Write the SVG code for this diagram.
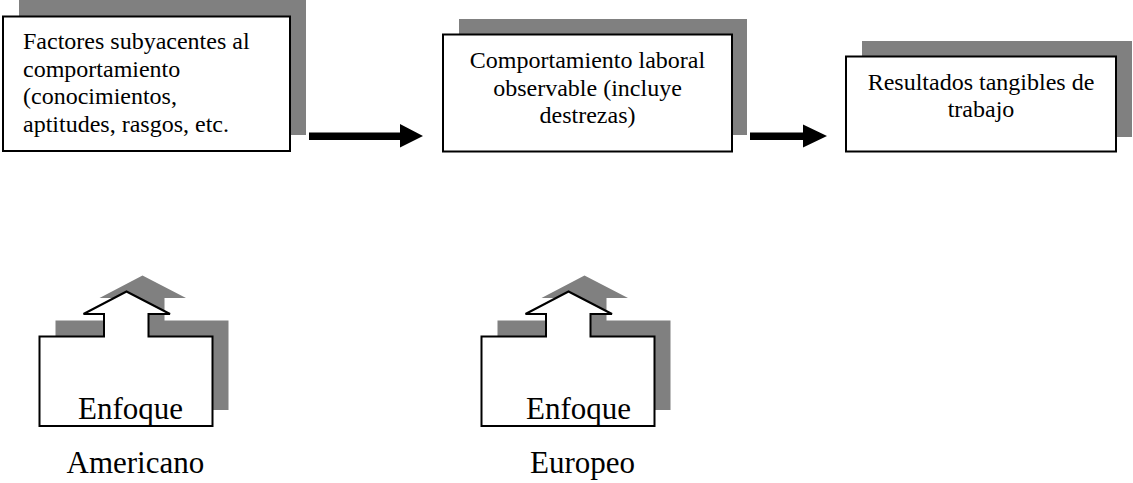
<svg xmlns="http://www.w3.org/2000/svg" width="1133" height="483" viewBox="0 0 1133 483">
<defs>
<style>
.shadow{fill:#808080;stroke:none}
.box{fill:#fff;stroke:#000;stroke-width:2}
.t{font-family:"Liberation Serif","Times New Roman",serif;font-size:24px;fill:#000}
.tc{font-family:"Liberation Serif","Times New Roman",serif;font-size:24px;fill:#000;text-anchor:middle}
.big{font-family:"Liberation Serif","Times New Roman",serif;font-size:31px;fill:#000}
.arrow{fill:#000;stroke:none}
</style>
<path id="house" d="M39.5,336.5 H104 V314 H83.5 L126.5,291.5 L170,314 H148.5 V336.5 H212.5 V426 H39.5 Z"/>
</defs>
<rect width="1133" height="483" fill="#fff"/>
<g id="node-factores">
<rect class="shadow" x="19" y="0" width="287" height="135"/>
<rect class="box" x="3" y="16.5" width="287" height="134.5"/>
<text class="t" x="23" y="49">Factores subyacentes al</text>
<text class="t" x="23" y="76.5">comportamiento</text>
<text class="t" x="23" y="104">(conocimientos,</text>
<text class="t" x="23" y="131.5">aptitudes, rasgos, etc.</text>
</g>
<g id="node-comportamiento">
<rect class="shadow" x="459" y="19" width="288" height="116"/>
<rect class="box" x="443" y="34.5" width="289" height="117"/>
<text class="tc" x="587.5" y="68">Comportamiento laboral</text>
<text class="tc" x="587.5" y="95.5">observable (incluye</text>
<text class="tc" x="587.5" y="123">destrezas)</text>
</g>
<g id="node-resultados">
<rect class="shadow" x="862" y="41" width="270" height="96"/>
<rect class="box" x="846" y="56.5" width="270" height="95"/>
<text class="tc" x="981" y="90">Resultados tangibles de</text>
<text class="tc" x="981" y="117">trabajo</text>
</g>
<g id="connectors">
<polygon class="arrow" points="309,132.5 400,132.5 400,124 423,136 400,147.5 400,140 309,140"/>
<polygon class="arrow" points="750,132.5 803,132.5 803,124.5 827,136 803,147.5 803,140 750,140"/>
</g>
<g id="node-americano">
<use href="#house" class="shadow" transform="translate(16,-16)"/>
<use href="#house" class="box"/>
<text class="big" x="78" y="419">Enfoque</text>
<text class="big" x="66.5" y="472.5">Americano</text>
</g>
<g id="node-europeo">
<use href="#house" class="shadow" transform="translate(458,-16)"/>
<use href="#house" class="box" transform="translate(442,0)"/>
<text class="big" x="526" y="419">Enfoque</text>
<text class="big" x="530" y="472.5">Europeo</text>
</g>
</svg>
